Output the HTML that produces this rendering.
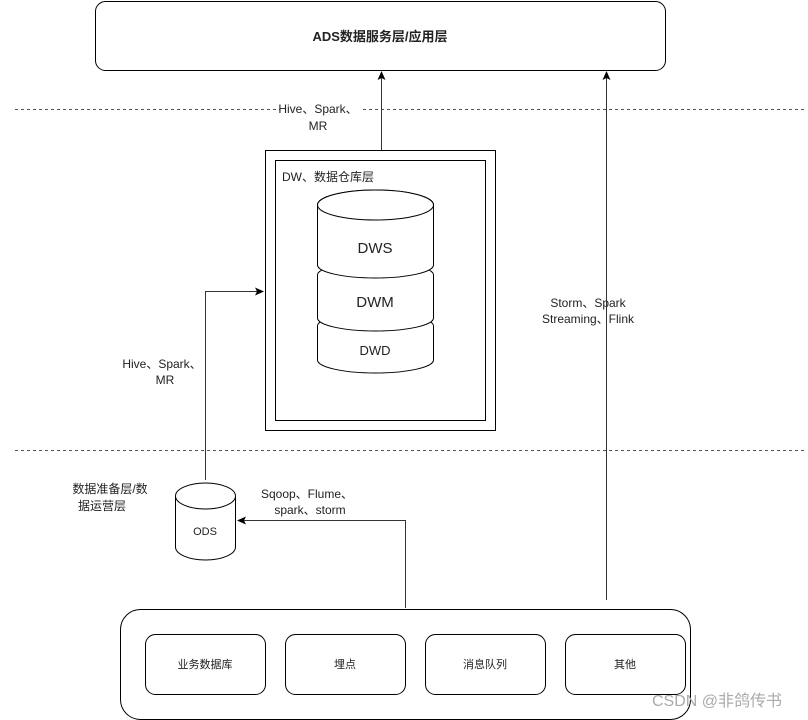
<!DOCTYPE html>
<html><head><meta charset="utf-8"><style>body{margin:0;background:#fff}svg{display:block}text{font-family:"Liberation Sans","Noto Sans CJK SC",sans-serif;fill:#222}</style></head><body>
<svg width="808" height="720" viewBox="0 0 808 720" xmlns="http://www.w3.org/2000/svg">
<defs><marker id="a" markerWidth="10" markerHeight="10" refX="8" refY="4" orient="auto" markerUnits="userSpaceOnUse"><path d="M0,0 L9,4 L0,8 L2,4 z" fill="#000"/></marker></defs>
<rect x="95.5" y="1.5" width="570" height="69" rx="10" fill="#fff" stroke="#000"/>
<text x="380" y="41" font-size="13" font-weight="bold" text-anchor="middle">ADS数据服务层/应用层</text>
<line x1="15" y1="109.5" x2="805" y2="109.5" stroke="#555" stroke-dasharray="3,3"/>
<line x1="15" y1="450.5" x2="805" y2="450.5" stroke="#555" stroke-dasharray="3,3"/>
<g stroke="#333" fill="none">
<line x1="381.5" y1="150" x2="381.5" y2="72" marker-end="url(#a)"/>
<line x1="606.5" y1="600" x2="606.5" y2="72" marker-end="url(#a)"/>
<polyline points="205.5,480 205.5,291.5 263,291.5" marker-end="url(#a)"/>
<polyline points="405.5,608 405.5,520.5 238,520.5" marker-end="url(#a)"/>
</g>
<g font-size="12" text-anchor="middle">
<rect x="280" y="100" width="80" height="14" fill="#fff"/>
<text x="318" y="113">Hive、Spark、</text><text x="318" y="130">MR</text>
<text x="588" y="307">Storm、Spark</text><text x="588" y="323">Streaming、Flink</text>
<text x="162" y="368">Hive、Spark、</text><text x="165" y="384">MR</text>
<text x="307" y="498">Sqoop、Flume、</text><text x="310" y="514">spark、storm</text>
<text x="110" y="493">数据准备层/数</text><text x="102" y="510">据运营层</text>
</g>
<rect x="265.5" y="150.5" width="230" height="280" fill="#fff" stroke="#000"/>
<rect x="275.5" y="160.5" width="210" height="260" fill="#fff" stroke="#000"/>
<text x="282" y="181" font-size="12">DW、数据仓库层</text>
<g stroke="#000" fill="#fff">
<path d="M317.5,326 L317.5,360 A58,13 0 0 0 433.5,360 L433.5,326 A58,13 0 0 0 317.5,326 z"/>
<path d="M317.5,275 L317.5,318 A58,13 0 0 0 433.5,318 L433.5,275 A58,13 0 0 0 317.5,275 z"/>
<path d="M317.5,205 L317.5,265 A58,13 0 0 0 433.5,265 L433.5,205 A58,15 0 0 0 317.5,205 z"/>
<ellipse cx="375.5" cy="205" rx="58" ry="15"/>
<path d="M175.5,496 L175.5,547 A30,13 0 0 0 235.5,547 L235.5,496" />
<ellipse cx="205.5" cy="496" rx="30" ry="13"/>
</g>
<g text-anchor="middle" fill="#333">
<text x="375" y="253" font-size="15">DWS</text>
<text x="375" y="307" font-size="15">DWM</text>
<text x="375" y="355" font-size="13">DWD</text>
<text x="205" y="535" font-size="11">ODS</text>
</g>
<rect x="120.5" y="609.5" width="570" height="110" rx="20" fill="none" stroke="#000"/>
<g stroke="#000" fill="#fff">
<rect x="145.5" y="634.5" width="120" height="60" rx="10"/>
<rect x="285.5" y="634.5" width="120" height="60" rx="10"/>
<rect x="425.5" y="634.5" width="120" height="60" rx="10"/>
<rect x="565.5" y="634.5" width="120" height="60" rx="10"/>
</g>
<g font-size="11" text-anchor="middle">
<text x="205" y="668">业务数据库</text><text x="345" y="668">埋点</text><text x="485" y="668">消息队列</text><text x="625" y="668">其他</text>
</g>
<text x="717" y="706" font-size="16" text-anchor="middle" style="fill:#aaa">CSDN @非鸽传书</text>
</svg>
</body></html>
